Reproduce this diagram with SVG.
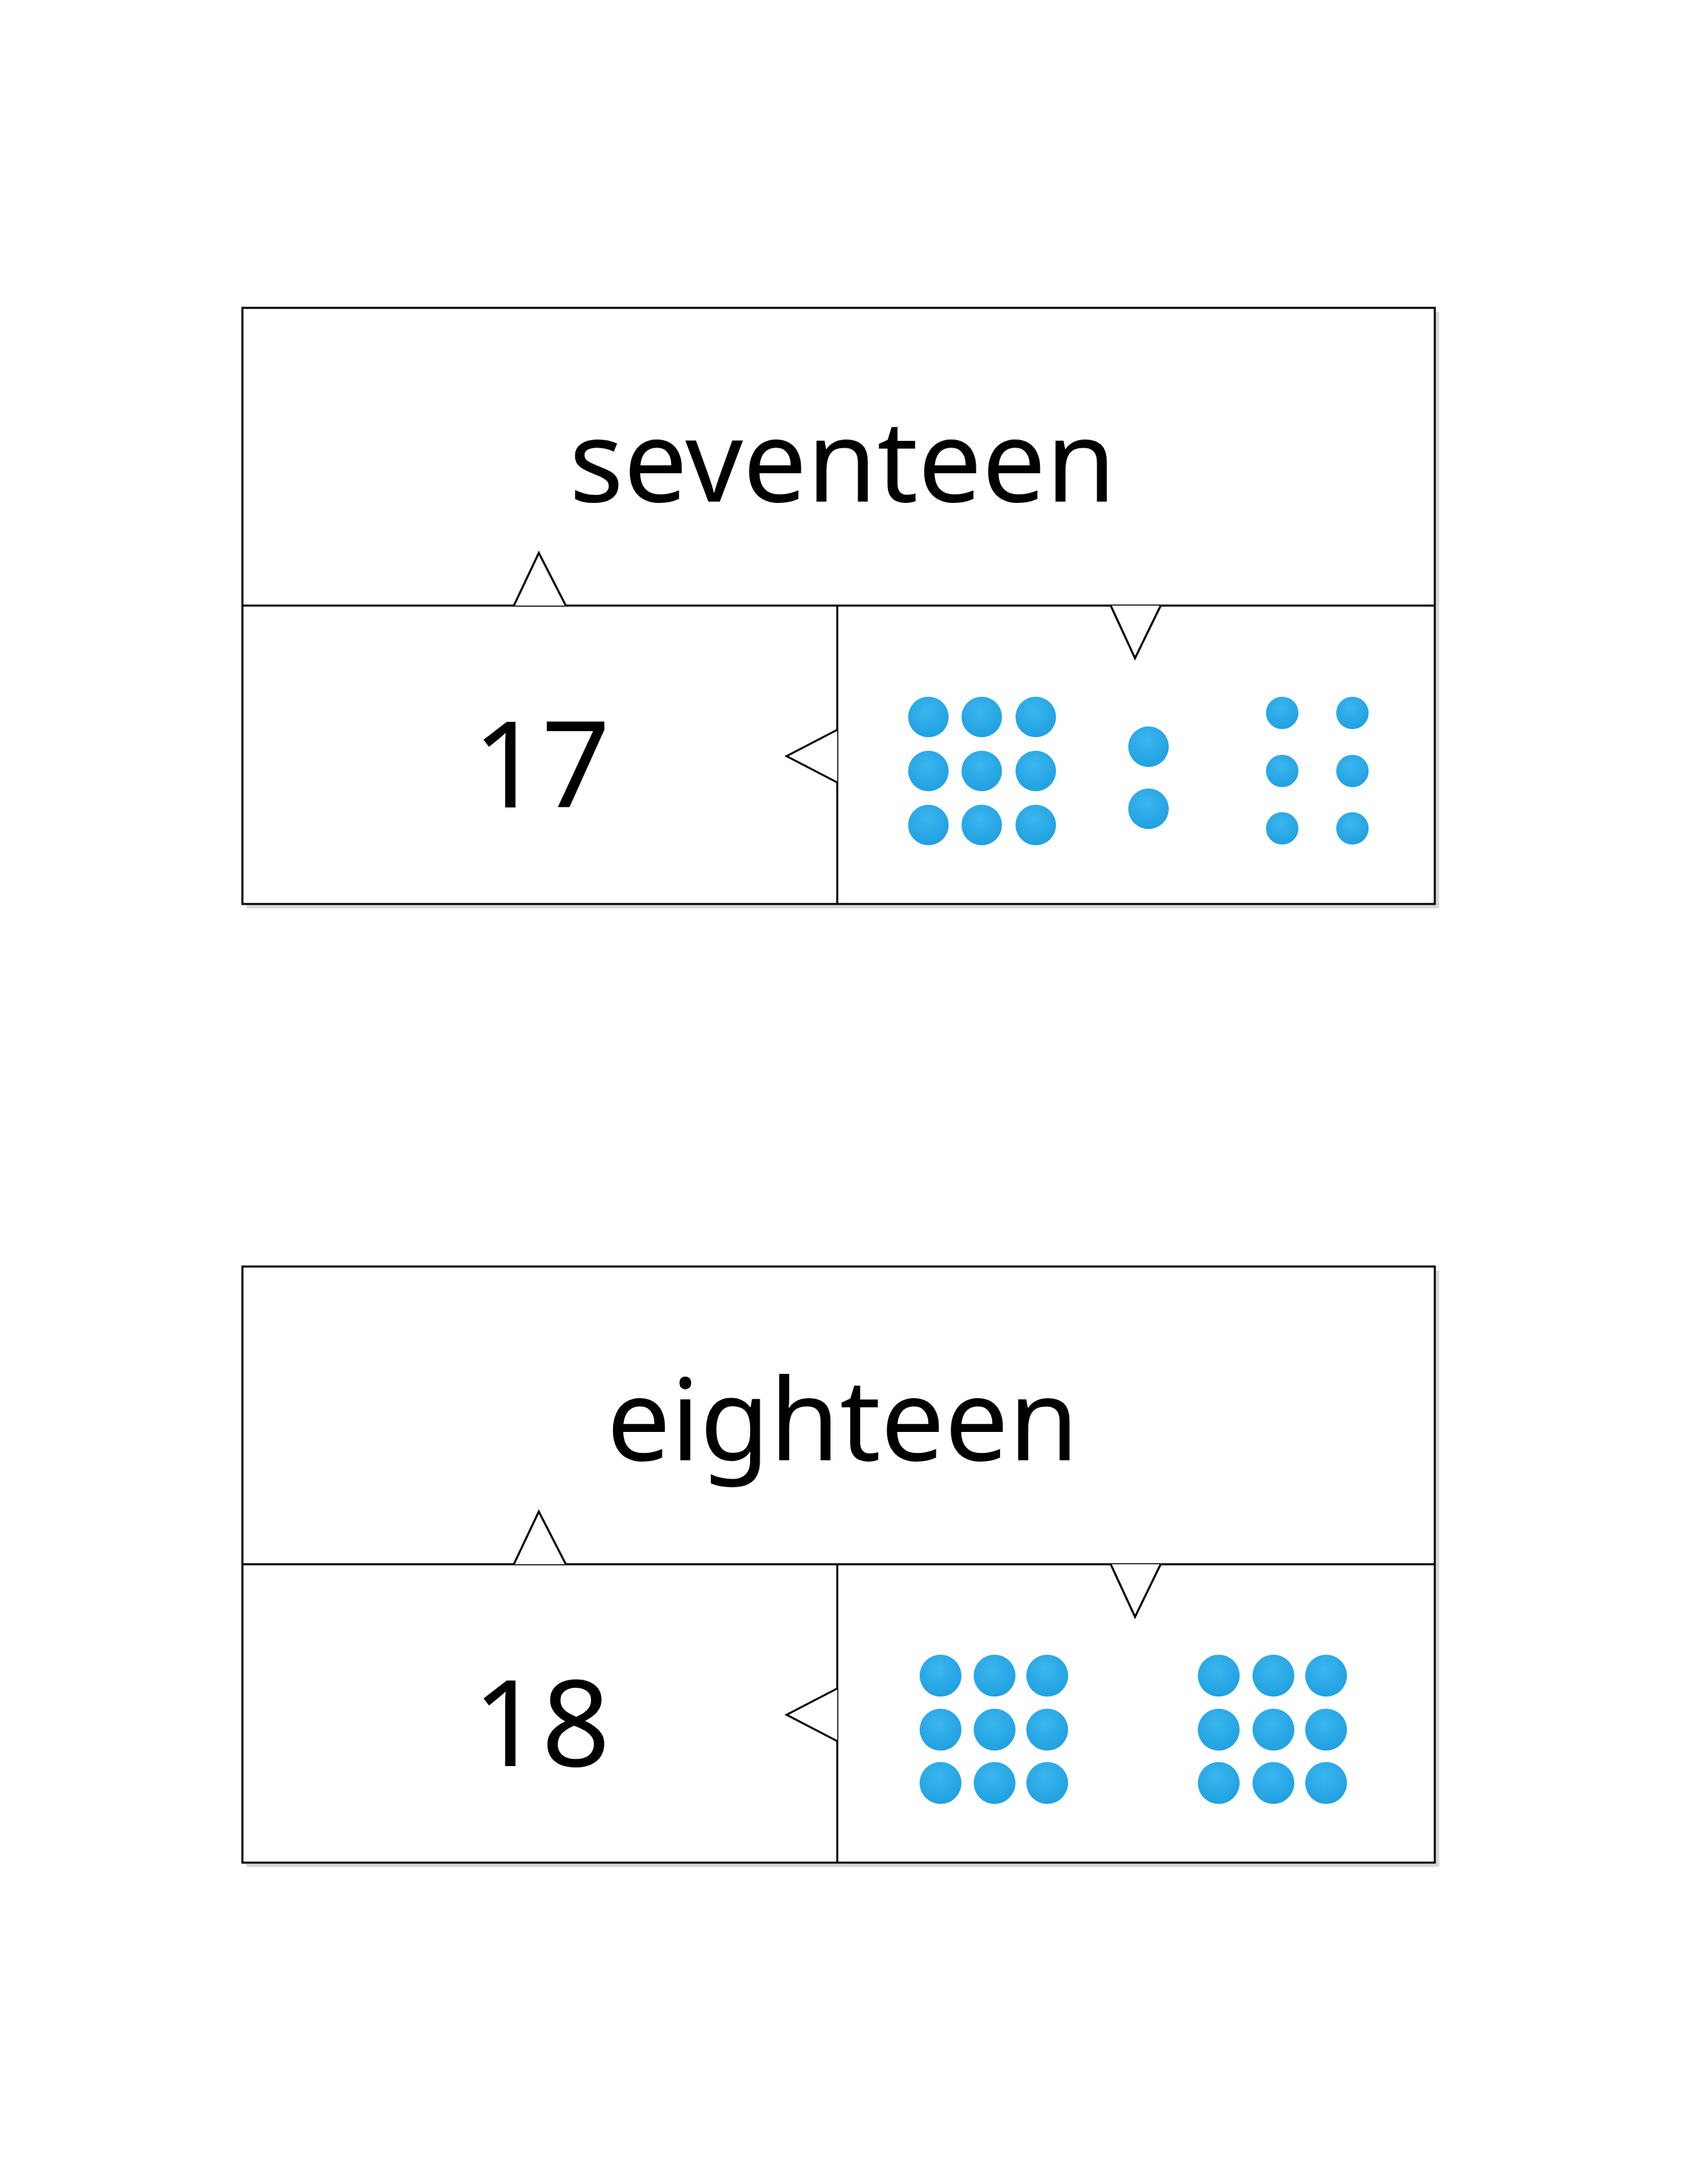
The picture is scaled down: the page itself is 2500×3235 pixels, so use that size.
<svg xmlns="http://www.w3.org/2000/svg" width="2500" height="3235" viewBox="0 0 2500 3235">
<defs>
<style>
.ln{fill:none;stroke:#000;stroke-width:3}
.sh{fill:none;stroke:#d8d8d8;stroke-width:5}
.tri{fill:#fff;stroke:#000;stroke-width:3}
.w{font-family:"Noto Sans","Open Sans",sans-serif;font-size:168px;fill:#000;text-anchor:middle}
.n{font-family:"Noto Sans","Open Sans",sans-serif;font-size:178px;fill:#000;text-anchor:middle}
.d{fill:url(#g)}
</style>
<radialGradient id="g" cx="0.45" cy="0.35" r="0.7"><stop offset="0" stop-color="#3bb6ee"/><stop offset="1" stop-color="#1e9fe0"/></radialGradient>
</defs>
<rect width="2500" height="3235" fill="#fff"/>
<g id="card17">
<path class="sh" d="M2129 462V1343H365"/>
<rect class="ln" x="359" y="456" width="1766" height="883" fill="#fff"/>
<line class="ln" x1="359" y1="897" x2="2125" y2="897"/>
<line class="ln" x1="1240" y1="897" x2="1240" y2="1339"/>
<text class="w" x="1248" y="743">seventeen</text>
<text class="n" x="802" y="1196">17</text>
<g id="dots17">
<circle class="d" cx="1375" cy="1062" r="30"/><circle class="d" cx="1454" cy="1062" r="30"/><circle class="d" cx="1534" cy="1062" r="30"/>
<circle class="d" cx="1375" cy="1142" r="30"/><circle class="d" cx="1454" cy="1142" r="30"/><circle class="d" cx="1534" cy="1142" r="30"/>
<circle class="d" cx="1375" cy="1222" r="30"/><circle class="d" cx="1454" cy="1222" r="30"/><circle class="d" cx="1534" cy="1222" r="30"/>
<circle class="d" cx="1701" cy="1106" r="30"/><circle class="d" cx="1701" cy="1198" r="30"/>
<circle class="d" cx="1899" cy="1056" r="24"/><circle class="d" cx="2003" cy="1056" r="24"/>
<circle class="d" cx="1899" cy="1142" r="24"/><circle class="d" cx="2003" cy="1142" r="24"/>
<circle class="d" cx="1899" cy="1227" r="24"/><circle class="d" cx="2003" cy="1227" r="24"/>
</g>
</g>
<g id="card18">
<path class="sh" d="M2129 1882V2763H365"/>
<rect class="ln" x="359" y="1876" width="1766" height="883" fill="#fff"/>
<line class="ln" x1="359" y1="2317" x2="2125" y2="2317"/>
<line class="ln" x1="1240" y1="2317" x2="1240" y2="2759"/>
<text class="w" x="1248" y="2163">eighteen</text>
<text class="n" x="802" y="2616">18</text>
<g id="dots18">
<circle class="d" cx="1393" cy="2482" r="31"/><circle class="d" cx="1473" cy="2482" r="31"/><circle class="d" cx="1551" cy="2482" r="31"/>
<circle class="d" cx="1393" cy="2562" r="31"/><circle class="d" cx="1473" cy="2562" r="31"/><circle class="d" cx="1551" cy="2562" r="31"/>
<circle class="d" cx="1393" cy="2641" r="31"/><circle class="d" cx="1473" cy="2641" r="31"/><circle class="d" cx="1551" cy="2641" r="31"/>
<circle class="d" cx="1805" cy="2482" r="31"/><circle class="d" cx="1886" cy="2482" r="31"/><circle class="d" cx="1964" cy="2482" r="31"/>
<circle class="d" cx="1805" cy="2562" r="31"/><circle class="d" cx="1886" cy="2562" r="31"/><circle class="d" cx="1964" cy="2562" r="31"/>
<circle class="d" cx="1805" cy="2641" r="31"/><circle class="d" cx="1886" cy="2641" r="31"/><circle class="d" cx="1964" cy="2641" r="31"/>
</g>
</g>
<g id="connectors">
<path class="tri" d="M761 897L798 819L838 897"/>
<path class="tri" d="M1645 897L1681 975L1719 897"/>
<path class="tri" d="M1240 1081L1165 1120L1240 1159"/>
<path class="tri" d="M761 2317L798 2239L838 2317"/>
<path class="tri" d="M1645 2317L1681 2395L1719 2317"/>
<path class="tri" d="M1240 2501L1165 2540L1240 2579"/>
</g>
</svg>
